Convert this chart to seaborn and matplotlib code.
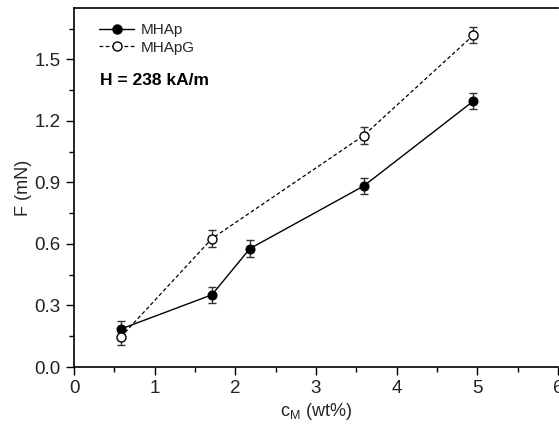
import matplotlib
matplotlib.use("Agg")
import matplotlib.pyplot as plt
import seaborn as sns
import pandas as pd
from matplotlib.ticker import MultipleLocator
from matplotlib.lines import Line2D

sns.set_style("ticks")
plt.rcParams['font.family'] = ['Liberation Sans', 'DejaVu Sans']
plt.rcParams['mathtext.fontset'] = 'custom'
plt.rcParams['mathtext.rm'] = 'Liberation Sans'
plt.rcParams['mathtext.it'] = 'Liberation Sans'

x_mhap = [0.58, 1.71, 2.18, 3.59, 4.95]
f_mhap = [0.185, 0.352, 0.577, 0.882, 1.296]
e_mhap = [0.04, 0.04, 0.04, 0.04, 0.04]

x_mhapg = [0.58, 1.71, 3.59, 4.95]
f_mhapg = [0.146, 0.626, 1.128, 1.617]
e_mhapg = [0.04, 0.04, 0.04, 0.04]

df1 = pd.DataFrame({"c": x_mhap, "F": f_mhap})
df2 = pd.DataFrame({"c": x_mhapg, "F": f_mhapg})

fig = plt.figure(figsize=(5.59, 4.32), dpi=100)
ax = fig.add_axes([74/559, 1-367/432, (558-74)/559, (367-8)/432])

ax.errorbar(x_mhap, f_mhap, yerr=e_mhap, fmt='none', ecolor='#333333', elinewidth=1.0, capsize=3, capthick=1.0, zorder=2)
ax.errorbar(x_mhapg, f_mhapg, yerr=e_mhapg, fmt='none', ecolor='#333333', elinewidth=1.0, capsize=3, capthick=1.0, zorder=2)

sns.lineplot(data=df1, x="c", y="F", ax=ax, color='black', lw=1.0, marker='o', markersize=6.5,
             markerfacecolor='black', markeredgecolor='black', zorder=3)
sns.lineplot(data=df2, x="c", y="F", ax=ax, color='black', lw=0.9, linestyle=(0, (3, 2)), marker='o',
             markersize=6.5, markerfacecolor='white', markeredgecolor='black', markeredgewidth=1.0, zorder=3)

ax.set_xlim(0, 6)
ax.set_ylim(0, 1.75)
ax.xaxis.set_major_locator(MultipleLocator(1))
ax.xaxis.set_minor_locator(MultipleLocator(0.5))
ax.yaxis.set_minor_locator(MultipleLocator(0.15))
ax.set_yticks([0.0, 0.3, 0.6, 0.9, 1.2, 1.5])
ax.set_yticklabels(["0.0", "0.3", "0.6", "0.9", "1.2", "1.5"])
ax.tick_params(which='major', direction='out', length=6, width=1.0, labelsize=13.5, color='black', labelcolor='#222222')
ax.tick_params(which='minor', direction='out', length=3.5, width=1.0, color='black')
for s in ['left', 'bottom', 'top']:
    ax.spines[s].set_linewidth(1.2)
    ax.spines[s].set_color('black')
ax.spines['right'].set_visible(False)

ax.set_xlabel(r"c$_{\mathregular{M}}$ (wt%)", fontsize=13, labelpad=3)
ax.set_ylabel("F (mN)", fontsize=13, labelpad=2)

handles = [
    Line2D([0], [0], color='black', lw=1.0, marker='o', markersize=6.5, markerfacecolor='black'),
    Line2D([0], [0], color='black', lw=0.9, linestyle=(0, (3, 2)), marker='o', markersize=6.5,
           markerfacecolor='white', markeredgecolor='black'),
]
ax.legend(handles, ["MHAp", "MHApG"], loc='upper left', frameon=False, fontsize=11,
          handlelength=2.3, handletextpad=0.4, labelspacing=0.25, borderpad=0, borderaxespad=0,
          bbox_to_anchor=((99-74)/484, (367-23)/359))

ax.text(0.32, 1.375, "H = 238 kA/m", fontsize=12.5, fontweight='bold', color='black')

fig.savefig("out.png", dpi=100)
